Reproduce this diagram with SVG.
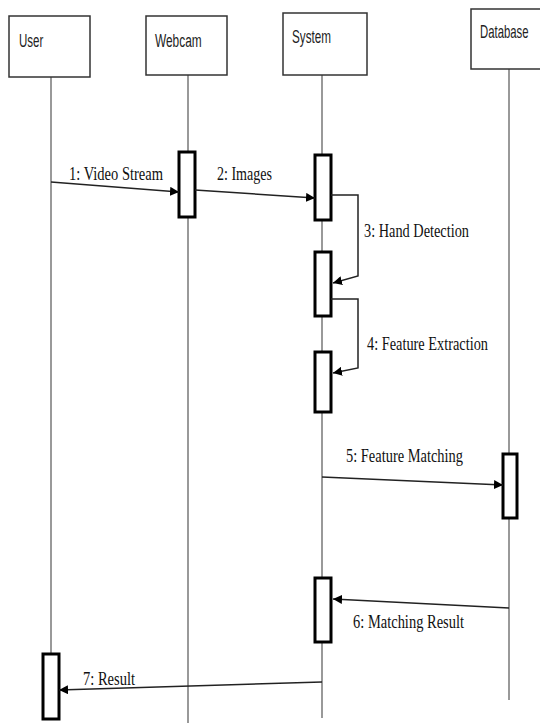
<svg xmlns="http://www.w3.org/2000/svg" width="540" height="723" viewBox="0 0 540 723">
<style>
.box{fill:#fff;stroke:#333;stroke-width:1.5}
.hd{font-family:"Liberation Sans",Arial,sans-serif;font-size:18px;fill:#222}
.life{stroke:#555;stroke-width:1.2;fill:none}
.act{fill:#fff;stroke:#000;stroke-width:3}
.msg{stroke:#222;stroke-width:1.5;fill:none}
.lbl{font-family:"Liberation Serif","Times New Roman",serif;font-size:19px;fill:#111}
</style>
<defs>
<marker id="ah" viewBox="0 0 10 10" refX="10" refY="5" markerWidth="9" markerHeight="9" markerUnits="userSpaceOnUse" orient="auto">
<path d="M0,0 L10,5 L0,10 z" fill="#000"/>
</marker>
</defs>
<g id="lifelines">
<line class="life" x1="51" y1="77" x2="51" y2="654"/>
<line class="life" x1="188" y1="75" x2="188" y2="723"/>
<line class="life" x1="322" y1="75" x2="322" y2="718"/>
<line class="life" x1="509" y1="69" x2="509" y2="700"/>
</g>
<g id="user"><rect class="box" x="9" y="16" width="81" height="61"/><text class="hd" transform="translate(19,47) scale(0.64,1)">User</text></g>
<g id="webcam"><rect class="box" x="146" y="16" width="81" height="59"/><text class="hd" transform="translate(155,47) scale(0.66,1)">Webcam</text></g>
<g id="system"><rect class="box" x="283" y="13" width="84" height="62"/><text class="hd" transform="translate(292,43) scale(0.65,1)">System</text></g>
<g id="database"><path class="box" d="M540,9 L471,9 L471,69 L540,69"/><text class="hd" transform="translate(480,38) scale(0.63,1)">Database</text></g>
<g id="activations">
<rect class="act" x="179" y="152" width="16" height="65"/>
<rect class="act" x="315" y="155" width="16" height="65"/>
<rect class="act" x="315" y="252" width="16" height="64"/>
<rect class="act" x="315" y="352" width="16" height="60"/>
<rect class="act" x="503" y="454" width="14" height="64"/>
<rect class="act" x="315" y="578" width="16" height="64"/>
<rect class="act" x="43" y="654" width="16" height="65"/>
</g>
<g id="connectors">
<line class="msg" x1="51" y1="182" x2="179" y2="192" marker-end="url(#ah)"/>
<line class="msg" x1="195" y1="190" x2="315" y2="198" marker-end="url(#ah)"/>
<polyline class="msg" points="331,195 358,195 358,276 333,283" marker-end="url(#ah)"/>
<polyline class="msg" points="331,299 358,299 358,368 333,373" marker-end="url(#ah)"/>
<line class="msg" x1="322" y1="477" x2="503" y2="485" marker-end="url(#ah)"/>
<line class="msg" x1="509" y1="608" x2="333" y2="599" marker-end="url(#ah)"/>
<line class="msg" x1="322" y1="682" x2="59" y2="690" marker-end="url(#ah)"/>
</g>
<g id="labels">
<text class="lbl" x="69" y="180" textLength="94" lengthAdjust="spacingAndGlyphs">1: Video Stream</text>
<text class="lbl" x="217" y="180" textLength="55" lengthAdjust="spacingAndGlyphs">2: Images</text>
<text class="lbl" x="364" y="237" textLength="105" lengthAdjust="spacingAndGlyphs">3: Hand Detection</text>
<text class="lbl" x="367" y="350" textLength="121" lengthAdjust="spacingAndGlyphs">4: Feature Extraction</text>
<text class="lbl" x="346" y="462" textLength="117" lengthAdjust="spacingAndGlyphs">5: Feature Matching</text>
<text class="lbl" x="353" y="628" textLength="111" lengthAdjust="spacingAndGlyphs">6: Matching Result</text>
<text class="lbl" x="83" y="685" textLength="52" lengthAdjust="spacingAndGlyphs">7: Result</text>
</g>
</svg>
